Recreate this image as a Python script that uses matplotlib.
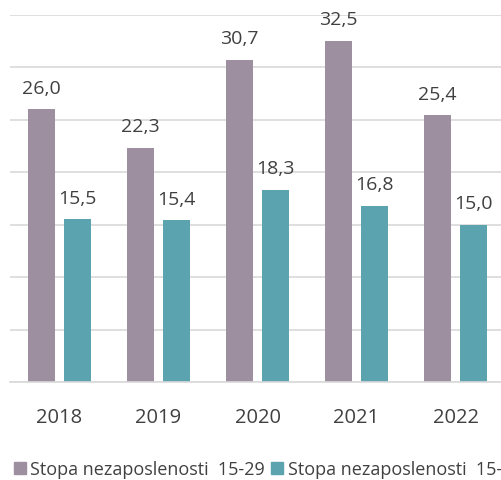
import matplotlib.pyplot as plt
import numpy as np
from matplotlib.patches import Patch

years = ["2018", "2019", "2020", "2021", "2022"]
youth = [26.0, 22.3, 30.7, 32.5, 25.4]
total = [15.5, 15.4, 18.3, 16.8, 15.0]
labels = ["Stopa nezaposlenosti  15-29", "Stopa nezaposlenosti  15-64"]

purple = "#9e8fa0"
teal = "#5ba3ae"
text_color = "#404040"

plt.rcParams["font.family"] = ["Open Sans", "DejaVu Sans"]

fig = plt.figure(figsize=(5.01, 4.81), dpi=100)
ax = fig.add_axes([10 / 501, 98 / 481, 491 / 501, 367.5 / 481])

x = np.arange(len(years))
w = 0.275
b1 = ax.bar(x - 0.18, youth, w, color=purple)
b2 = ax.bar(x + 0.18, total, w, color=teal)

for bars in (b1, b2):
    for bar in bars:
        h = bar.get_height()
        ax.annotate(f"{h:.1f}".replace(".", ","),
                    (bar.get_x() + bar.get_width() / 2, h),
                    xytext=(0, 9), textcoords="offset points",
                    ha="center", va="bottom", fontsize=14,
                    color=text_color, annotation_clip=False)

ax.set_xlim(-0.5, -0.5 + 491 / 99)
ax.set_ylim(0, 35)
ax.set_yticks(np.arange(0, 36, 5))
ax.yaxis.grid(True, color="#d9d9d9", linewidth=1.2)
ax.set_axisbelow(True)
ax.tick_params(axis="y", left=False, labelleft=False)
ax.tick_params(axis="x", length=0, pad=18, labelsize=14.5, labelcolor=text_color)
ax.set_xticks(x)
ax.set_xticklabels(years)
for s in ["top", "right", "left"]:
    ax.spines[s].set_visible(False)
ax.spines["bottom"].set_color("#d9d9d9")
ax.spines["bottom"].set_linewidth(1.2)

# legend runs past the right edge, as in the original
handles = [Patch(color=purple), Patch(color=teal)]
fig.legend(handles, labels, loc="center left", bbox_to_anchor=(14 / 501, 1 - 470 / 481),
           ncol=2, frameon=False, fontsize=13, labelcolor=text_color,
           handlelength=0.65, handleheight=0.65, handletextpad=0.25,
           columnspacing=0.35, borderaxespad=0, borderpad=0)

fig.savefig("out.png", dpi=100)
